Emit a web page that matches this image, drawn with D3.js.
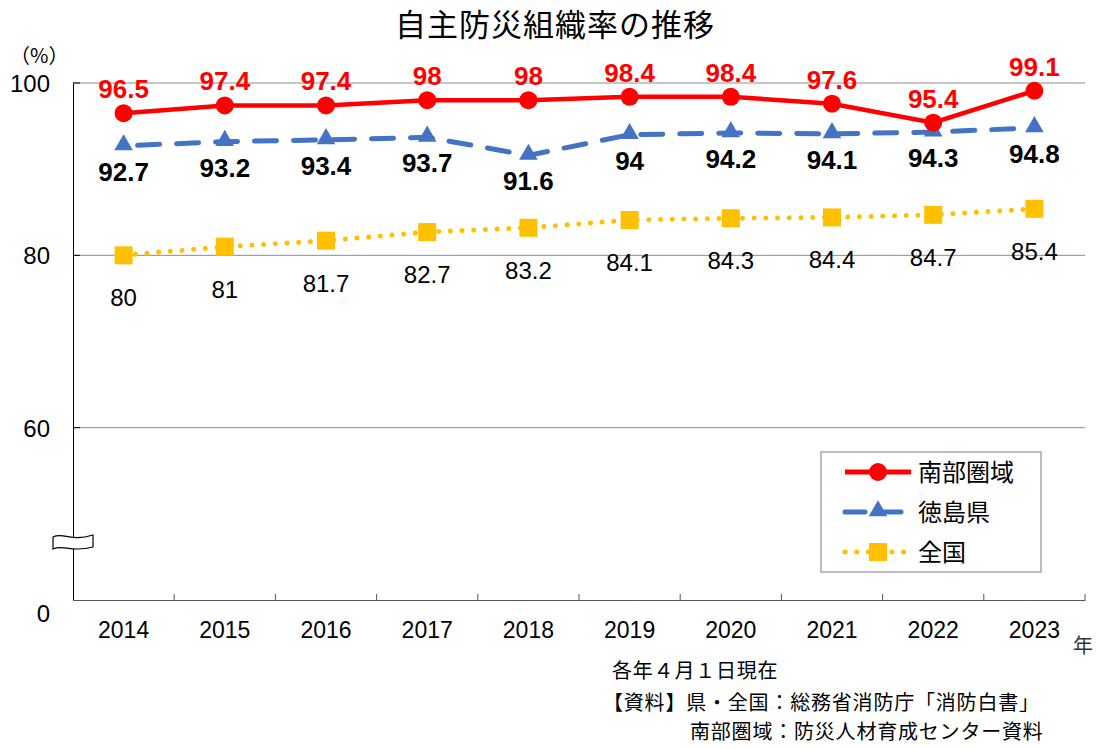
<!DOCTYPE html>
<html>
<head>
<meta charset="utf-8">
<script src="https://cdn.jsdelivr.net/npm/d3@7"></script>
<style>
  body { margin: 0; background: #fff; }
  text { font-family: "Liberation Sans", Arial, "Noto Sans CJK JP", sans-serif; }
  .jp { font-family: "Noto Sans CJK JP", sans-serif; }
</style>
</head>
<body>
<div id="chart"></div>
<script>
// data
var years = ["2014","2015","2016","2017","2018","2019","2020","2021","2022","2023"];
var nanbu = [96.5, 97.4, 97.4, 98, 98, 98.4, 98.4, 97.6, 95.4, 99.1];
var tokushima = [92.7, 93.2, 93.4, 93.7, 91.6, 94, 94.2, 94.1, 94.3, 94.8];
var zenkoku = [80, 81, 81.7, 82.7, 83.2, 84.1, 84.3, 84.4, 84.7, 85.4];
var yTicks = [40, 60, 80, 100];
var yTickLabels = ["0", "60", "80", "100"];
var seriesNames = ["南部圏域", "徳島県", "全国"];

var W = 1099, H = 749;
var margin = {top: 83, right: 14, bottom: 149, left: 73},
    width = W - margin.left - margin.right,
    height = H - margin.top - margin.bottom;

var svg = d3.select("#chart").append("svg")
    .attr("width", W).attr("height", H);

svg.append("text")
    .attr("class", "jp")
    .attr("x", 555).attr("y", 36)
    .attr("text-anchor", "middle")
    .attr("font-size", 31)
    .attr("letter-spacing", 1)
    .text("自主防災組織率の推移");

var g = svg.append("g")
    .attr("transform", "translate(" + margin.left + "," + margin.top + ")");

var x = d3.scaleBand().domain(years).range([0, width]);
var y = d3.scaleLinear().domain([40, 100]).range([height, 0]);

// gridlines
g.selectAll("line.grid")
    .data(yTicks.filter(d => d > 40))
    .enter().append("line")
    .attr("x1", 0).attr("x2", width)
    .attr("y1", d => y(d)).attr("y2", d => y(d))
    .attr("stroke", "#8c8c8c").attr("stroke-width", 1);

// y axis
var yAxis = g.append("g")
    .call(d3.axisLeft(y).tickValues(yTicks).tickSize(0).tickPadding(23)
        .tickFormat((d, i) => yTickLabels[i]));
yAxis.select(".domain").attr("stroke", "#000");
yAxis.selectAll("text")
    .attr("font-size", 24).attr("fill", "#000")
    .attr("font-family", "Liberation Sans, Arial, sans-serif")
    .attr("dy", d => d === 40 ? "0.9em" : "0.35em");
g.selectAll("line.ytick")
    .data(yTicks.filter(d => d > 40))
    .enter().append("line")
    .attr("x1", 0).attr("x2", 7)
    .attr("y1", d => y(d)).attr("y2", d => y(d))
    .attr("stroke", "#000");

// x axis
var xAxis = g.append("g")
    .attr("transform", "translate(0," + height + ")")
    .call(d3.axisBottom(x).tickSize(0).tickPadding(22));
xAxis.select(".domain").attr("stroke", "#555");
xAxis.selectAll("text")
    .attr("font-size", 23).attr("fill", "#000")
    .attr("font-family", "Liberation Sans, Arial, sans-serif");
g.selectAll("line.xtick")
    .data(years.slice(1).concat(["end"]))
    .enter().append("line")
    .attr("x1", (d, i) => (i + 1) * x.bandwidth())
    .attr("x2", (d, i) => (i + 1) * x.bandwidth())
    .attr("y1", height - 6).attr("y2", height)
    .attr("stroke", "#555");

// axis break symbol
var by = height - 59;
g.append("path")
    .attr("d", "M-20," + (by - 4) + " C-10," + (by - 9) + " -2," + (by + 1) + " 20," + (by - 6) +
        " L20," + (by + 6) + " C-2," + (by + 12) + " -10," + (by + 3) + " -20," + (by + 8) + " Z")
    .attr("fill", "#fff").attr("stroke", "#000").attr("stroke-width", 1.2);

var cx = (d, i) => x(years[i]) + x.bandwidth() / 2;
var line = d3.line().x(cx).y(d => y(d));

// 全国
g.append("path").datum(zenkoku)
    .attr("fill", "none").attr("stroke", "#ffc000")
    .attr("stroke-width", 5).attr("stroke-linecap", "round")
    .attr("stroke-dasharray", "0.1 11.6")
    .attr("d", line);
g.selectAll("rect.zk").data(zenkoku).enter().append("rect")
    .attr("x", (d, i) => cx(d, i) - 9).attr("y", d => y(d) - 9)
    .attr("width", 18).attr("height", 18).attr("fill", "#ffc000");
g.selectAll("text.zk").data(zenkoku).enter().append("text")
    .attr("x", cx).attr("y", d => y(d) + 51)
    .attr("text-anchor", "middle").attr("font-size", 24)
    .text(d => d);

// 徳島県
var tri = d3.symbol().type(d3.symbolTriangle).size(150);
g.append("path").datum(tokushima)
    .attr("fill", "none").attr("stroke", "#4472c4")
    .attr("stroke-width", 5).attr("stroke-linecap", "round")
    .attr("stroke-dasharray", "22 17")
    .attr("stroke-dashoffset", -14)
    .attr("d", line);
g.selectAll("path.tk").data(tokushima).enter().append("path")
    .attr("transform", (d, i) => "translate(" + cx(d, i) + "," + (y(d) - 1) + ")")
    .attr("d", tri).attr("fill", "#4472c4");
g.selectAll("text.tk").data(tokushima).enter().append("text")
    .attr("x", cx).attr("y", d => y(d) + 35)
    .attr("text-anchor", "middle").attr("font-size", 26).attr("font-weight", "bold")
    .text(d => d);

// 南部圏域
g.append("path").datum(nanbu)
    .attr("fill", "none").attr("stroke", "#ff0000")
    .attr("stroke-width", 4.5)
    .attr("d", line);
g.selectAll("circle.nb").data(nanbu).enter().append("circle")
    .attr("cx", cx).attr("cy", d => y(d)).attr("r", 9)
    .attr("fill", "#ff0000");
g.selectAll("text.nb").data(nanbu).enter().append("text")
    .attr("x", cx).attr("y", d => y(d) - 15)
    .attr("text-anchor", "middle").attr("font-size", 26).attr("font-weight", "bold")
    .attr("fill", "#ff0000")
    .text(d => d);

// labels
svg.append("text").attr("class", "jp")
    .attr("x", 10).attr("y", 63).attr("font-size", 20).text("（%）");
svg.append("text").attr("class", "jp")
    .attr("x", 1073).attr("y", 653).attr("font-size", 20).attr("fill", "#333").text("年");

// legend
var lg = svg.append("g").attr("transform", "translate(821,452)");
lg.append("rect").attr("width", 220).attr("height", 120)
    .attr("fill", "#fff").attr("stroke", "#a6a6a6").attr("stroke-width", 1.5);
var rows = [
  {color: "#ff0000", dash: null, cap: "butt"},
  {color: "#4472c4", dash: "20 16", cap: "round"},
  {color: "#ffc000", dash: "0.1 11.6", cap: "round"}
];
rows.forEach(function (r, i) {
  var ry = 20 + i * 40;
  var ln = lg.append("line")
      .attr("x1", 24).attr("x2", 90).attr("y1", ry).attr("y2", ry)
      .attr("stroke", r.color).attr("stroke-width", 5).attr("stroke-linecap", r.cap);
  if (r.dash) ln.attr("stroke-dasharray", r.dash);
  if (i === 0) lg.append("circle").attr("cx", 57).attr("cy", ry).attr("r", 9).attr("fill", r.color);
  if (i === 1) lg.append("path").attr("transform", "translate(57," + (ry - 1) + ")").attr("d", tri).attr("fill", r.color);
  if (i === 2) lg.append("rect").attr("x", 48).attr("y", ry - 9).attr("width", 18).attr("height", 18).attr("fill", r.color);
  lg.append("text").attr("class", "jp")
      .attr("x", 97).attr("y", ry + 9).attr("font-size", 24)
      .text(seriesNames[i]);
});

// footnotes
var notes = [
  {x: 612, y: 678, t: "各年４月１日現在"},
  {x: 603, y: 710, t: "【資料】県・全国：総務省消防庁「消防白書」"},
  {x: 690, y: 739, t: "南部圏域：防災人材育成センター資料"}
];
svg.selectAll("text.note").data(notes).enter().append("text")
    .attr("class", "jp")
    .attr("x", d => d.x).attr("y", d => d.y)
    .attr("font-size", 20).attr("letter-spacing", 0.8)
    .text(d => d.t);
</script>
</body>
</html>
